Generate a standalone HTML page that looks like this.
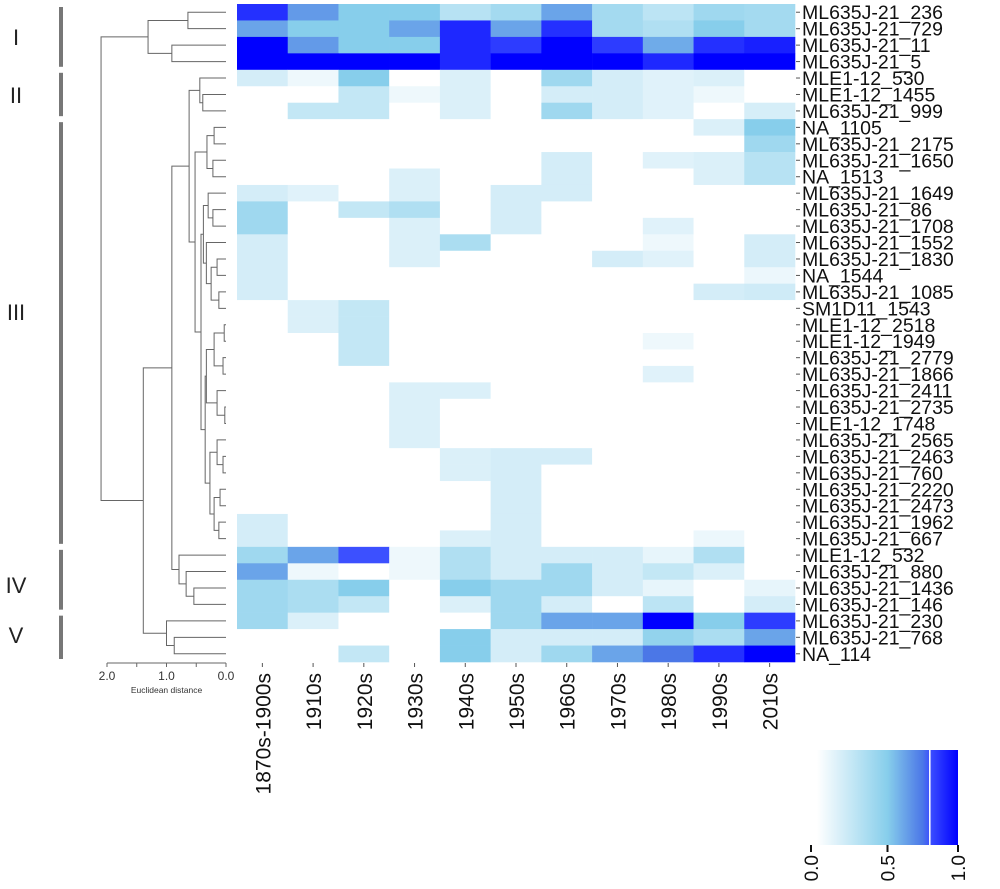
<!DOCTYPE html>
<html><head><meta charset="utf-8">
<style>
html,body{margin:0;padding:0;background:#fff;}
svg{display:block;font-family:"Liberation Sans",Arial,sans-serif;}
</style></head>
<body>
<svg id="chart" width="1000" height="889" viewBox="0 0 1000 889">
  <g id="cluster-bars"></g>
  <g id="dendro"></g>
  <g id="dendro-axis"></g>
  <g id="cells"></g>
  <g id="row-labels"></g>
  <g id="col-labels"></g>
  <g id="legend"></g>
</svg>
<script>
const columns = ["1870s-1900s","1910s","1920s","1930s","1940s","1950s","1960s","1970s","1980s","1990s","2010s"];
const rowNames = ["ML635J-21_236","ML635J-21_729","ML635J-21_11","ML635J-21_5","MLE1-12_530","MLE1-12_1455","ML635J-21_999","NA_1105","ML635J-21_2175","ML635J-21_1650","NA_1513","ML635J-21_1649","ML635J-21_86","ML635J-21_1708","ML635J-21_1552","ML635J-21_1830","NA_1544","ML635J-21_1085","SM1D11_1543","MLE1-12_2518","MLE1-12_1949","ML635J-21_2779","ML635J-21_1866","ML635J-21_2411","ML635J-21_2735","MLE1-12_1748","ML635J-21_2565","ML635J-21_2463","ML635J-21_760","ML635J-21_2220","ML635J-21_2473","ML635J-21_1962","ML635J-21_667","MLE1-12_532","ML635J-21_880","ML635J-21_1436","ML635J-21_146","ML635J-21_230","ML635J-21_768","NA_114"];
const values = [
[0.88,0.65,0.5,0.5,0.3,0.38,0.62,0.38,0.28,0.4,0.38],
[0.62,0.5,0.5,0.62,0.9,0.62,0.88,0.38,0.33,0.5,0.38],
[1,0.65,0.5,0.5,0.9,0.85,1,0.85,0.6,0.88,0.92],
[1,1,1,1,0.9,1,1,1,0.9,1,1],
[0.18,0.07,0.5,0,0.15,0,0.4,0.18,0.13,0.15,0],
[0,0,0.25,0.07,0.15,0,0.18,0.18,0.13,0.07,0],
[0,0.25,0.25,0,0.15,0,0.4,0.18,0.13,0,0.17],
[0,0,0,0,0,0,0,0,0,0.15,0.5],
[0,0,0,0,0,0,0,0,0,0,0.4],
[0,0,0,0,0,0,0.18,0,0.13,0.15,0.3],
[0,0,0,0.15,0,0,0.18,0,0,0.15,0.3],
[0.18,0.13,0,0.15,0,0.18,0.18,0,0,0,0],
[0.4,0,0.25,0.33,0,0.18,0,0,0,0,0],
[0.4,0,0,0.15,0,0.18,0,0,0.13,0,0],
[0.18,0,0,0.15,0.35,0,0,0,0.07,0,0.18],
[0.18,0,0,0.15,0,0,0,0.18,0.13,0,0.18],
[0.18,0,0,0,0,0,0,0,0,0,0.08],
[0.18,0,0,0,0,0,0,0,0,0.18,0.2],
[0,0.15,0.25,0,0,0,0,0,0,0,0],
[0,0.15,0.25,0,0,0,0,0,0,0,0],
[0,0,0.25,0,0,0,0,0,0.07,0,0],
[0,0,0.25,0,0,0,0,0,0,0,0],
[0,0,0,0,0,0,0,0,0.13,0,0],
[0,0,0,0.15,0.15,0,0,0,0,0,0],
[0,0,0,0.15,0,0,0,0,0,0,0],
[0,0,0,0.15,0,0,0,0,0,0,0],
[0,0,0,0.15,0,0,0,0,0,0,0],
[0,0,0,0,0.15,0.18,0.18,0,0,0,0],
[0,0,0,0,0.15,0.18,0,0,0,0,0],
[0,0,0,0,0,0.18,0,0,0,0,0],
[0,0,0,0,0,0.18,0,0,0,0,0],
[0.18,0,0,0,0,0.18,0,0,0,0,0],
[0.18,0,0,0,0.15,0.18,0,0,0,0.08,0],
[0.4,0.62,0.8,0.07,0.33,0.18,0.18,0.18,0.1,0.33,0],
[0.62,0.07,0,0.07,0.33,0.18,0.4,0.18,0.25,0.15,0],
[0.4,0.35,0.5,0,0.5,0.4,0.4,0.18,0.1,0,0.1],
[0.4,0.35,0.25,0,0.15,0.4,0.18,0,0.28,0,0.18],
[0.4,0.15,0,0,0,0.4,0.62,0.62,1,0.5,0.85],
[0,0,0,0,0.5,0.18,0.18,0.18,0.45,0.35,0.62],
[0,0,0.25,0,0.5,0.18,0.4,0.62,0.75,0.88,1]
];
// dendrogram merges: [left, right, height]
const clI = [[0,1,0.64],[2,3,0.91],1.31];
const clII = [4,[5,6,0.39],0.44];
const subA = [[7,8,0.2],[9,10,0.22],0.32];
const subB = [11,[12,13,0.22],0.3];
const subC = [14,[[15,16,0.15],[17,18,0.12],0.25],0.33];
const subD = [[[19,20,0.03],[21,22,0.05],0.2],[23,[24,25,0.02],0.15],0.33];
const subE = [[26,[27,28,0.05],0.15],[[29,30,0.1],[31,32,0.12],0.2],0.27];
const clIII = [subA,[[subB,subC,0.38],[subD,subE,0.35],0.42],0.52];
const clIV = [33,[34,[35,36,0.54],0.67],0.79];
const clV = [37,[38,39,0.87],1.0];
const tree = [clI,[[[clII,clIII,0.62],clIV,0.91],clV,1.39],2.1];
const clusterNames = ["I","II","III","IV","V"];
const legendTicks = [0.0,0.5,1.0];
const distTicks = [2.0,1.5,1.0,0.5,0.0];

const NS="http://www.w3.org/2000/svg";
function mk(tag,attrs,parent){const e=document.createElementNS(NS,tag);for(const k in attrs)e.setAttribute(k,attrs[k]);parent.appendChild(e);return e;}
const X0=237,X1=795,Y0=4,Y1=662;
const cw=(X1-X0)/columns.length, rh=(Y1-Y0)/rowNames.length;
const xCol=i=>X0+i*cw, yRow=i=>Y0+i*rh;
const stops=[[0,[255,255,255]],[0.5,[135,206,235]],[0.79,[65,105,230]],[0.8,[60,80,255]],[1,[0,0,255]]];
function color(v){v=Math.max(0,Math.min(1,v));for(let i=1;i<stops.length;i++){if(v<=stops[i][0]){const a=stops[i-1],b=stops[i];const t=(v-a[0])/(b[0]-a[0]);const c=a[1].map((x,j)=>Math.round(x+(b[1][j]-x)*t));return "rgb("+c.join(",")+")";}}return "rgb(0,0,255)";}

const cells=document.getElementById('cells');
values.forEach((row,r)=>row.forEach((v,c)=>{
  const e=mk('rect',{x:xCol(c),y:yRow(r),width:cw+0.3,height:rh+0.3,fill:color(v)},cells);
  
  
}));
const rl=document.getElementById('row-labels');
rowNames.forEach((n,r)=>{
  const y=yRow(r)+rh/2;
  mk('line',{x1:796,x2:800,y1:y,y2:y,stroke:'#555','stroke-width':1},rl);
  const t=mk('text',{x:802,y:y+7,'font-size':19.5,fill:'#111'},rl);
  t.textContent=n;
  
  
});
const cl=document.getElementById('col-labels');
columns.forEach((n,c)=>{
  const x=xCol(c)+cw/2;
  mk('line',{x1:x,x2:x,y1:663,y2:667,stroke:'#555','stroke-width':1},cl);
  const t=mk('text',{x:0,y:0,'font-size':21,fill:'#111','text-anchor':'end',transform:'translate('+(x+8)+',673) rotate(-90)'},cl);
  t.textContent=n;
  
  
});
// dendrogram
const dg=document.getElementById('dendro');
const XD0=226, DS=59.5, xd=d=>XD0-d*DS;
function draw(n){
  if(typeof n==='number')return {y:yRow(n)+rh/2,h:0};
  const a=draw(n[0]),b=draw(n[1]);const x=xd(n[2]);
  const p='M'+xd(a.h)+','+a.y+'H'+x+'V'+b.y+'H'+xd(b.h);
  const e=mk('path',{d:p,fill:'none',stroke:'#666','stroke-width':1},dg);
  
  
  return {y:(a.y+b.y)/2,h:n[2]};
}
draw(tree);
// axis
const da=document.getElementById('dendro-axis');
mk('line',{x1:xd(2),x2:xd(0),y1:663,y2:663,stroke:'#666'},da);
distTicks.forEach(d=>{
  mk('line',{x1:xd(d),x2:xd(d),y1:663,y2:667,stroke:'#666'},da);
  if(d%1===0){const t=mk('text',{x:xd(d),y:680,'font-size':12,'text-anchor':'middle',fill:'#333'},da);t.textContent=d.toFixed(1);
  
  }
});
const at=mk('text',{x:xd(1),y:693,'font-size':8.5,'text-anchor':'middle',fill:'#333'},da);
at.textContent='Euclidean distance';


// cluster bars
const cb=document.getElementById('cluster-bars');
const groups=[[0,3],[4,6],[7,32],[33,36],[37,39]];
const labelY=[45,103,320,593,643];
groups.forEach((g,i)=>{
  const y1=yRow(g[0])+3,y2=yRow(g[1]+1)-3;
  const r=mk('rect',{x:59,y:y1,width:4,height:y2-y1,fill:'#777'},cb);
  
  
  const t=mk('text',{x:16,y:labelY[i],'font-size':22,'text-anchor':'middle',fill:'#222'},cb);
  t.textContent=clusterNames[i];
  
  
});
// legend
const lg=document.getElementById('legend');
const LX0=817,LX1=958,LY0=750,LY1=845;
const defs=mk('defs',{},lg);
const grad=mk('linearGradient',{id:'lgGrad',x1:0,x2:1,y1:0,y2:0},defs);
for(let i=0;i<=20;i++){const v=i/20;mk('stop',{offset:v,'stop-color':color(v)},grad);}
const lr=mk('rect',{x:LX0,y:LY0,width:LX1-LX0,height:LY1-LY0,fill:'url(#lgGrad)'},lg);


const lx=v=>LX0+v*(LX1-LX0);
mk('line',{x1:lx(0.8),x2:lx(0.8),y1:LY0,y2:LY1,stroke:'#fff','stroke-width':1.5},lg);
legendTicks.forEach(v=>{
  const x=v===0?811:lx(v);
  mk('line',{x1:x,x2:x,y1:LY1,y2:LY1+7,stroke:'#111','stroke-width':2},lg);
  const t=mk('text',{x:0,y:0,'font-size':19,'text-anchor':'end',fill:'#111',transform:'translate('+(x+7)+','+(LY1+10)+') rotate(-90)'},lg);
  t.textContent=v.toFixed(1);
  
  
});
</script>
</body></html>
